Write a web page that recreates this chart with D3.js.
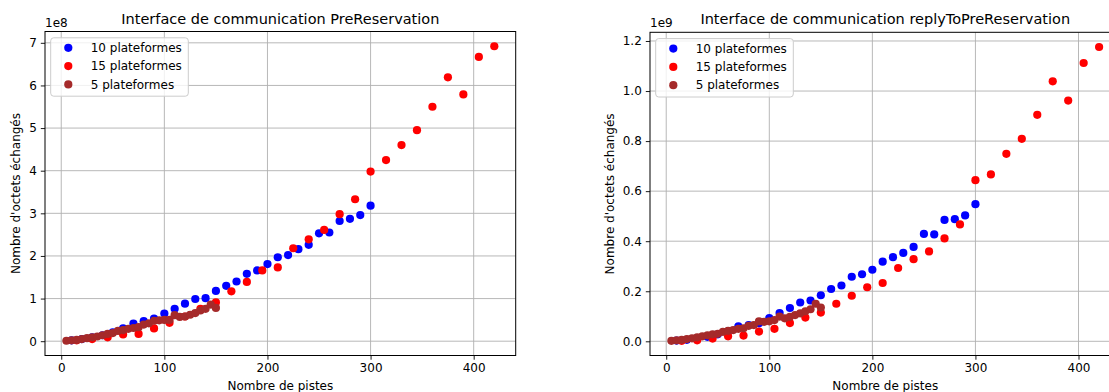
<!DOCTYPE html>
<html>
<head>
<meta charset="utf-8">
<script src="https://cdn.jsdelivr.net/npm/d3@7"></script>
<style>
body{margin:0;background:#fff;}
svg{display:block;}
text{font-family:"DejaVu Sans",sans-serif;fill:#000;}
</style>
</head>
<body>
<svg id="chart" width="1109" height="392"></svg>
<script>
// ---- data ----
const seriesNames = ["10 plateformes", "15 plateformes", "5 plateformes"];
const seriesColors = ["#0000ff", "#ff0000", "#a52a2a"];

const x10 = [10,20,30,40,50,60,70,80,90,100,110,120,130,140,150,160,170,180,190,200,210,220,230,240,250,260,270,280,290,300];
const x15 = [15,30,45,60,75,90,105,120,135,150,165,180,195,210,225,240,255,270,285,300,315,330,345,360,375,390,405,420];
const x5  = [5,10,15,20,25,30,35,40,45,50,55,60,65,70,75,80,85,90,95,100,105,110,115,120,125,130,135,140,145,150];

// Chart 1: PreReservation (units 1e8)
const pre10 = [0.02,0.05,0.09,0.14,0.21,0.30,0.41,0.47,0.53,0.65,0.76,0.88,0.99,1.01,1.18,1.30,1.40,1.58,1.66,1.81,1.97,2.02,2.16,2.26,2.53,2.55,2.82,2.87,2.96,3.18];
const pre15 = [0.02,0.05,0.09,0.16,0.17,0.30,0.43,0.58,0.76,0.91,1.17,1.39,1.66,1.73,2.18,2.39,2.61,2.98,3.33,3.98,4.25,4.60,4.95,5.50,6.19,5.79,6.67,6.92];
const pre5  = [0.01,0.02,0.03,0.05,0.07,0.09,0.11,0.14,0.17,0.19,0.24,0.26,0.29,0.31,0.33,0.39,0.42,0.48,0.49,0.50,0.50,0.61,0.57,0.58,0.62,0.66,0.72,0.76,0.86,0.78];

// Chart 2: replyToPreReservation (units 1e9)
const rep10 = [0.003,0.006,0.011,0.018,0.028,0.040,0.060,0.065,0.072,0.093,0.113,0.133,0.155,0.163,0.184,0.209,0.223,0.258,0.268,0.286,0.318,0.336,0.353,0.377,0.429,0.427,0.485,0.488,0.503,0.548];
const rep15 = [0.002,0.004,0.011,0.020,0.023,0.039,0.050,0.073,0.095,0.115,0.150,0.182,0.216,0.233,0.293,0.328,0.359,0.411,0.467,0.644,0.667,0.749,0.809,0.905,1.039,0.962,1.112,1.176];
const rep5  = [0.002,0.004,0.006,0.009,0.012,0.016,0.020,0.024,0.028,0.030,0.038,0.042,0.045,0.050,0.052,0.062,0.065,0.080,0.078,0.080,0.085,0.099,0.092,0.098,0.105,0.112,0.120,0.128,0.150,0.135];

const xTicks = [0,100,200,300,400];
const yTicksPre = [0,1,2,3,4,5,6,7];
const yTicksRep = [0,0.2,0.4,0.6,0.8,1.0,1.2];

const charts = [
  {title:"Interface de communication PreReservation", offset:"1e8",
   series:[[x10,pre10],[x15,pre15],[x5,pre5]], yTicks:yTicksPre, yFmt:d3.format("d"),
   box:{l:45,r:515.7,t:31.5,b:355.5}, ylabX:16},
  {title:"Interface de communication replyToPreReservation", offset:"1e9",
   series:[[x10,rep10],[x15,rep15],[x5,rep5]], yTicks:yTicksRep, yFmt:d3.format(".1f"),
   box:{l:650,r:1120.5,t:32.3,b:355.5}, ylabX:610}
];

const svg = d3.select("#chart");

function padExtent(arr){
  const [a,b] = d3.extent(arr); const m=(b-a)*0.05; return [a-m,b+m];
}

charts.forEach(c => {
  const B = c.box;
  const allX = c.series.flatMap(s=>s[0]);
  const allY = c.series.flatMap(s=>s[1]);
  const x = d3.scaleLinear().domain(padExtent(allX)).range([B.l,B.r]);
  const y = d3.scaleLinear().domain(padExtent(allY)).range([B.b,B.t]);
  const g = svg.append("g");
  const clipId = "clip"+B.l;
  g.append("clipPath").attr("id",clipId).append("rect")
    .attr("x",B.l).attr("y",B.t).attr("width",B.r-B.l).attr("height",B.b-B.t);

  // grid
  const grid = g.append("g").attr("clip-path",`url(#${clipId})`);
  grid.selectAll(".gx").data(xTicks).join("line")
    .attr("x1",d=>x(d)).attr("x2",d=>x(d)).attr("y1",B.t).attr("y2",B.b)
    .attr("stroke","#b0b0b0").attr("stroke-width",0.9);
  grid.selectAll(".gy").data(c.yTicks).join("line")
    .attr("y1",d=>y(d)).attr("y2",d=>y(d)).attr("x1",B.l).attr("x2",B.r)
    .attr("stroke","#b0b0b0").attr("stroke-width",0.9);

  // points
  const pts = g.append("g").attr("clip-path",`url(#${clipId})`);
  c.series.forEach((s,i) => {
    pts.append("g").selectAll("circle").data(s[0].map((xv,j)=>[xv,s[1][j]])).join("circle")
      .attr("cx",d=>x(d[0])).attr("cy",d=>y(d[1])).attr("r",4.1)
      .attr("fill",seriesColors[i]);
  });

  // axes
  const ax = g.append("g").attr("transform",`translate(0,${B.b})`)
    .call(d3.axisBottom(x).tickValues(xTicks).tickFormat(d3.format("d")).tickSize(4.2).tickPadding(4));
  const ay = g.append("g").attr("transform",`translate(${B.l},0)`)
    .call(d3.axisLeft(y).tickValues(c.yTicks).tickFormat(c.yFmt).tickSize(4.2).tickPadding(4));
  [ax,ay].forEach(a=>{
    a.select(".domain").remove();
    a.selectAll("text").attr("font-size","12px").attr("font-family","DejaVu Sans").attr("fill","#000");
    a.selectAll("line").attr("stroke","#000").attr("stroke-width",0.9);
  });

  // frame
  g.append("rect").attr("x",B.l).attr("y",B.t).attr("width",B.r-B.l).attr("height",B.b-B.t)
    .attr("fill","none").attr("stroke","#000").attr("stroke-width",1);

  // title
  g.append("text").attr("x",(B.l+B.r)/2).attr("y",23.5).attr("text-anchor","middle")
    .attr("font-size","14.5px").text(c.title);
  // offset text
  g.append("text").attr("x",B.l).attr("y",27).attr("font-size","12px").text(c.offset);
  // axis labels
  g.append("text").attr("x",(B.l+B.r)/2).attr("y",390).attr("text-anchor","middle")
    .attr("font-size","12px").text("Nombre de pistes");
  g.append("text").attr("transform",`translate(${c.ylabX},${(B.t+B.b)/2}) rotate(-90)`)
    .attr("text-anchor","middle").attr("dy","0.35em").attr("font-size","12px").text("Nombre d'octets échangés");

  // legend
  const lx = B.l+5.7, ly = B.t+6.3;
  const lg = g.append("g");
  lg.append("rect").attr("x",lx).attr("y",ly).attr("width",137.6).attr("height",58.4)
    .attr("rx",3).attr("fill","#fff").attr("fill-opacity",0.8)
    .attr("stroke","#cccccc").attr("stroke-width",1);
  seriesNames.forEach((n,i)=>{
    const yy = ly+10+i*18.3;
    lg.append("circle").attr("cx",lx+17.6).attr("cy",yy).attr("r",4.1).attr("fill",seriesColors[i]);
    lg.append("text").attr("x",lx+40).attr("y",yy).attr("dy","0.35em").attr("font-size","12px").text(n);
  });
});
</script>
</body>
</html>
